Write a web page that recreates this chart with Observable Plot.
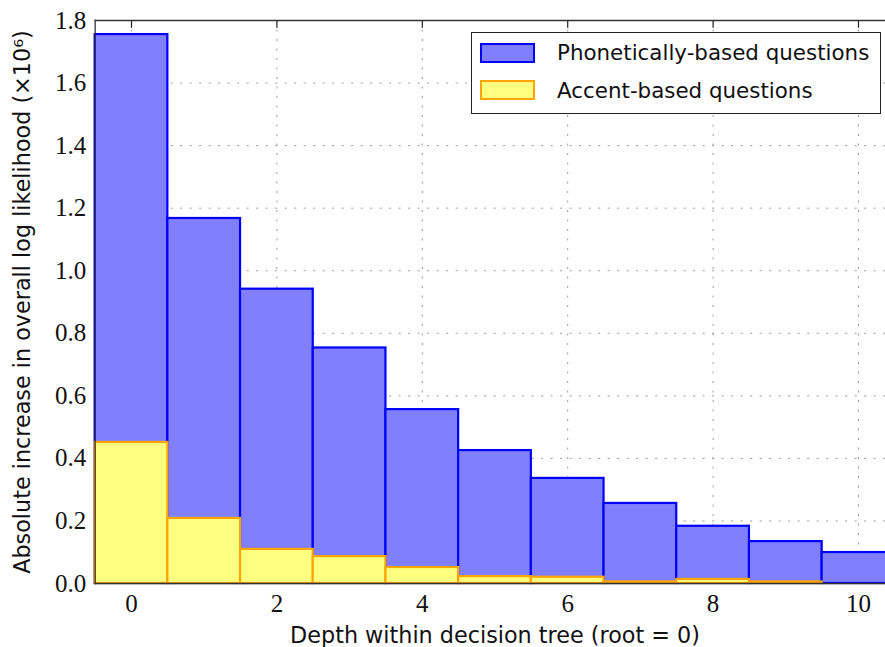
<!DOCTYPE html>
<html><head><meta charset="utf-8">
<script src="https://cdn.jsdelivr.net/npm/d3@7"></script>
<script src="https://cdn.jsdelivr.net/npm/@observablehq/plot@0.6"></script>
<style>
html,body{margin:0;padding:0;background:#fff;overflow:hidden;width:885px;height:647px}
#wrap{position:relative;width:885px;height:647px;overflow:hidden}
#chart{width:896px}
#chart svg{display:block;max-width:none !important;width:896px !important;height:647px !important}
#legend{position:absolute;left:471px;top:32px;width:410px;height:82px;border:1px solid #222;background:#fff;box-sizing:border-box;font-family:"DejaVu Sans",sans-serif;font-size:21.4px;color:#111}
.item{position:absolute;left:8px;height:20px;display:flex;align-items:center}
.sw{width:55px;height:20px;box-sizing:border-box;border:2px solid;margin-right:22px}
</style></head>
<body>
<div id="wrap"><div id="chart"></div>
<div id="legend"></div></div>
<script>
const depths = [0, 1, 2, 3, 4, 5, 6, 7, 8, 9, 10];
const phonetic = [1.755, 1.167, 0.941, 0.753, 0.556, 0.425, 0.336, 0.256, 0.183, 0.134, 0.099];
const accent = [0.451, 0.208, 0.109, 0.086, 0.051, 0.022, 0.020, 0.005, 0.013, 0.005, 0.0];
const xTicks = [0, 2, 4, 6, 8, 10];
const yTicks = [0, 0.2, 0.4, 0.6, 0.8, 1.0, 1.2, 1.4, 1.6, 1.8];
const seriesNames = ["Phonetically-based questions", "Accent-based questions"];
const xLabel = "Depth within decision tree (root = 0)";
const yLabel = "Absolute increase in overall log likelihood (×10⁶)";

const blue = {fill: "#8080ff", stroke: "#0000ff"};
const yellow = {fill: "#ffff80", stroke: "#ffa500"};

const phonData = depths.map((d, i) => ({d, v: phonetic[i]}));
const accData = depths.map((d, i) => ({d, v: accent[i]}));

const serif = "'Liberation Serif', 'DejaVu Serif', serif";
const sans = "'DejaVu Sans', sans-serif";
const grid = {stroke: "#999", strokeWidth: 1, strokeDasharray: "2,7.5"};

const chart = Plot.plot({
  width: 896, height: 647,
  marginLeft: 94.65, marginRight: 1.65, marginTop: 20, marginBottom: 64,
  x: {domain: [-0.5, 10.5]},
  y: {domain: [0, 1.8]},
  style: {background: "#fff", maxWidth: "none"},
  marks: [
    Plot.ruleX(xTicks, {...grid}),
    Plot.ruleY(yTicks.slice(1, -1), {...grid}),
    Plot.rectY(phonData, {x1: d => d.d - 0.5, x2: d => d.d + 0.5, y1: 0, y2: "v", fill: blue.fill, stroke: blue.stroke, strokeWidth: 2.2}),
    Plot.rectY(accData.filter(d => d.v > 0), {x1: d => d.d - 0.5, x2: d => d.d + 0.5, y1: 0, y2: "v", fill: yellow.fill, stroke: yellow.stroke, strokeWidth: 2.2}),
    Plot.ruleX(xTicks, {y1: 1.8, y2: 1.775, stroke: "#222", strokeWidth: 1.2}),
    Plot.frame({anchor: "top", stroke: "#333", strokeWidth: 1.3}),
    Plot.frame({anchor: "left", stroke: "#333", strokeWidth: 1.3}),
    Plot.frame({anchor: "bottom", stroke: "#333", strokeWidth: 1.3}),
    Plot.axisX({ticks: xTicks, tickSize: 0, tickPadding: 11, fontSize: 25, fontFamily: serif, label: null, color: "#111"}),
    Plot.axisY({ticks: yTicks, tickSize: 0, tickPadding: 9, fontSize: 25, fontFamily: serif, label: null, tickFormat: d3.format(".1f"), color: "#111"}),
    Plot.text([xLabel], {frameAnchor: "bottom", lineAnchor: "bottom", dy: 59, fontSize: 22.3, fontFamily: sans, fill: "#111"}),
    Plot.text([yLabel], {frameAnchor: "left", textAnchor: "middle", lineAnchor: "middle", rotate: -90, dx: -72, fontSize: 22.3, fontFamily: sans, fill: "#111"})
  ]
});
document.getElementById("chart").appendChild(chart);

const legend = document.getElementById("legend");
[blue, yellow].forEach((c, i) => {
  const it = document.createElement("div");
  it.className = "item";
  it.style.top = (i === 0 ? 9.5 : 47) + "px";
  const sw = document.createElement("div");
  sw.className = "sw";
  sw.style.background = c.fill;
  sw.style.borderColor = c.stroke;
  const t = document.createElement("span");
  t.textContent = seriesNames[i];
  it.appendChild(sw); it.appendChild(t);
  legend.appendChild(it);
});
</script>
</body></html>
